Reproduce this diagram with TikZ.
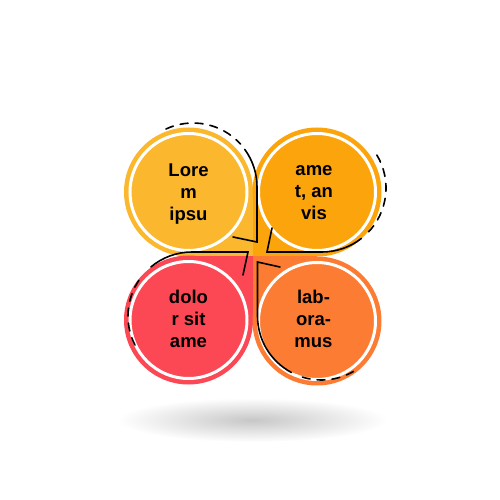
\documentclass[tikz,border=0pt]{standalone}
\usepackage{fontspec}
\setmainfont{Liberation Sans}

\definecolor{petalyellow}{HTML}{FBB82E}
\definecolor{petalamber}{HTML}{FCA40C}
\definecolor{petalred}{HTML}{FC4854}
\definecolor{petalorange}{HTML}{FD7C34}

\tikzset{
  outline/.style={line width=1.6pt, line cap=round},
  dashedline/.style={outline, dash pattern=on 8pt off 7pt},
  ring/.style={draw=white, line width=3pt},
  petaltext/.style={align=center, font=\fontsize{18.5}{22}\selectfont\bfseries,
    execute at begin node=\strut, execute at end node=\strut}
}

\begin{document}
\begin{tikzpicture}[x=1pt,y=1pt]

  \useasboundingbox (-252.5,-244) rectangle (247.5,256);

  \shade[inner color=black!22, outer color=white] (0,-164) ellipse (135 and 22);

  \foreach \cx/\cy/\col in {-64/64/petalyellow, 64.5/64/petalamber, -64/-64/petalred, 64.5/-65/petalorange}
  {
    \fill[\col] (\cx,\cy) circle (64.5);
    \fill[\col] (\cx,\cy) rectangle (0,0);
    \draw[ring] (\cx,\cy) circle (58.5);
  }

  \draw[dashedline] (-59.5,69) ++(115:64) arc (115:42:64);
  \draw[outline] (-59.5,69) ++(36:64) arc (36:0:64) -- (4.5,14) -- (-19.5,19);

  \draw[dashedline] (69.5,68) ++(31:64) arc (31:-45:64);
  \draw[outline] (69.5,68) ++(-52:64) arc (-52:-90:64) -- (14.5,4) -- (19.5,28);

  \draw[dashedline] (-60.5,-60) ++(207:64) arc (207:140:64);
  \draw[outline] (-60.5,-60) ++(130:64) arc (130:90:64) -- (-4.5,4) -- (-9.5,-19);

  \draw[dashedline] (69,-60) ++(-60:64) arc (-60:-108:64);
  \draw[outline] (69,-60) ++(-118:64) arc (-118:-180:64) -- (5,-6) -- (27.5,-11);

  \node[petaltext] (lorem) at (-64,60.5) {Lore\\m\\ipsu};
  \node[petaltext] (amet) at (61.5,60.5) {ame\\t, an\\vis};
  \node[petaltext] (dolor) at (-64,-66.3) {dolo\\r sit\\ame};
  \node[petaltext] (labor) at (61,-66.3) {lab-\\ora-\\mus};

\end{tikzpicture}
\end{document}
